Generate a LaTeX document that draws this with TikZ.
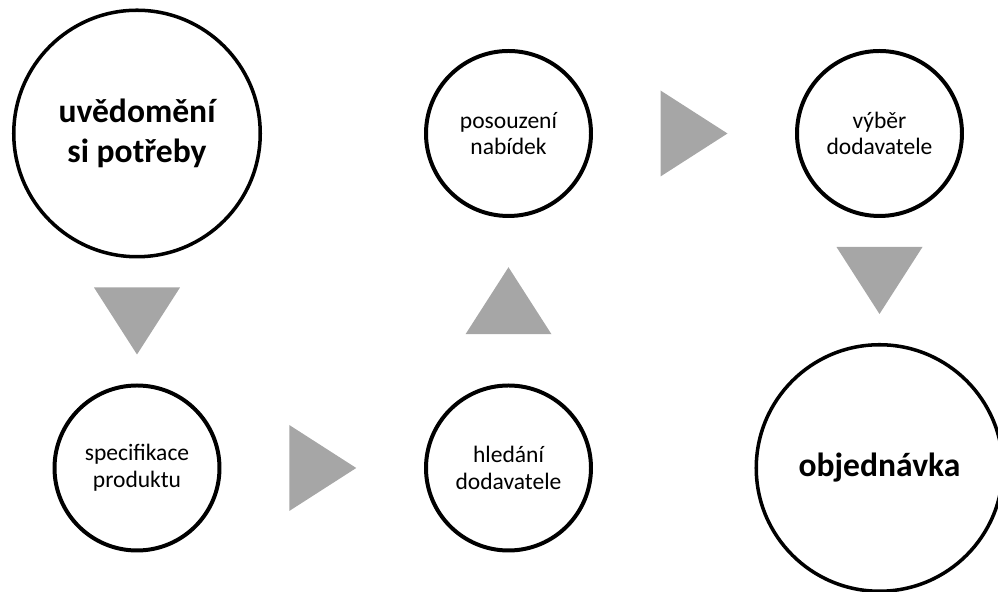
\documentclass[tikz,border=0pt]{standalone}
\usepackage{fontspec}
\setmainfont{Carlito}
\usepackage{tikz}
\usetikzlibrary{calc}
\definecolor{arrowgray}{HTML}{A6A6A6}
\tikzstyle{bigstep}=[circle, draw, line width=2pt, minimum size=4.93cm, inner sep=0pt, align=center, font=\fontsize{19.1}{22.7}\selectfont\bfseries]
\tikzstyle{smallstep}=[circle, draw, line width=2.27pt, minimum size=3.3cm, inner sep=0pt, align=center, font=\fontsize{13.4}{15.2}\selectfont]
\newcommand{\grayTri}[3]{
	\coordinate (ZZm) at ($#1!0.5!#2$);
	\fill[arrowgray, shift={(ZZm)}, rotate=#3] (0.67,0) -- (-0.67,0.86) -- (-0.67,-0.86) -- cycle;
}

\begin{document}
\begin{tikzpicture}
	\useasboundingbox (0,0) rectangle (19.96,11.84);
	\clip (0,0) rectangle (19.96,11.84);
	\node[bigstep] (need) at (2.74,9.17) {uvědomění\\si potřeby};
	\node[smallstep] (spec) at (2.74,2.48) {specifikace\\produktu};
	\node[smallstep] (hled) at (10.17,2.48) {hledání\\dodavatele};
	\node[smallstep] (posouz) at (10.17,9.17) {posouzení\\nabídek};
	\node[smallstep] (vyber) at (17.59,9.17) {výběr\\dodavatele};
	\node[bigstep] (obj) at (17.59,2.48) {objednávka};
	\grayTri{(need.south)}{(spec.north)}{-90}
	\grayTri{(spec.east)}{(hled.west)}{0}
	\grayTri{(hled.north)}{(posouz.south)}{90}
	\grayTri{(posouz.east)}{(vyber.west)}{0}
	\grayTri{(vyber.south)}{(obj.north)}{-90}
\end{tikzpicture}
\end{document}
